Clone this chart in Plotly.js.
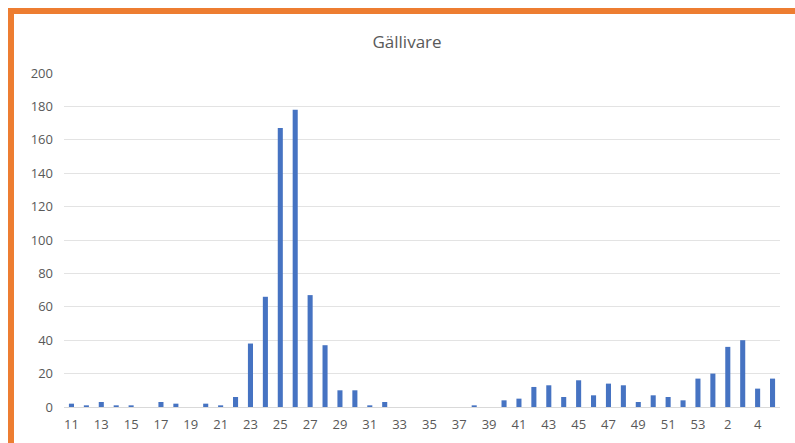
<!DOCTYPE html>
<html>
<head>
<meta charset="utf-8">
<script src="https://cdn.plot.ly/plotly-3.0.1.min.js"></script>
<style>
  html, body { margin: 0; padding: 0; background: #ffffff; }
  #wrap { position: relative; width: 795px; height: 443px; overflow: hidden; }
  #chart { position: absolute; left: 0; top: 0; width: 795px; height: 443px; }
  #frame { position: absolute; left: 8px; top: 8px; width: 800px; height: 460px;
           border-top: 6px solid #ED7D31; border-left: 6px solid #ED7D31;
           pointer-events: none; box-sizing: border-box; }
</style>
</head>
<body>
<div id="wrap">
  <div id="chart"></div>
  <div id="frame"></div>
</div>
<script>
// Week numbers (2020 week 11 to 2021 week 5)
const weeks = ["11","12","13","14","15","16","17","18","19","20","21","22","23","24","25","26","27","28","29","30",
               "31","32","33","34","35","36","37","38","39","40","41","42","43","44","45","46","47","48","49","50",
               "51","52","53","1","2","3","4","5"];
// Cases per week
const cases = [2,1,3,1,1,0,3,2,0,2,1,6,38,66,167,178,67,37,10,10,
               1,3,0,0,0,0,0,1,0,4,5,12,13,6,16,7,14,13,3,7,
               6,4,17,20,36,40,11,17];
const chartTitle = "Gällivare";

const tickVals = weeks.filter((w, i) => i % 2 === 0);

const trace = {
  type: 'bar',
  x: weeks,
  y: cases,
  marker: { color: '#4673C2' },
  hoverinfo: 'x+y'
};

const layout = {
  width: 795,
  height: 443,
  margin: { l: 64, r: 15, t: 73, b: 36, pad: 0 },
  paper_bgcolor: '#ffffff',
  plot_bgcolor: '#ffffff',
  bargap: 0.66,
  showlegend: false,
  title: {
    text: chartTitle,
    x: 0.512, xanchor: 'center',
    y: 0.905, yanchor: 'middle',
    font: { family: 'Open Sans, sans-serif', size: 17, color: '#595959' }
  },
  font: { family: 'Open Sans, sans-serif', size: 13, color: '#595959' },
  xaxis: {
    type: 'category',
    tickmode: 'array',
    tickvals: tickVals,
    ticktext: tickVals,
    tickangle: 0,
    showgrid: false,
    zeroline: false,
    showline: false,
    ticks: '',
    ticklabelstandoff: 8,
    tickfont: { size: 13, color: '#595959' }
  },
  yaxis: {
    range: [0, 200],
    dtick: 20,
    tick0: 0,
    showgrid: true,
    gridcolor: '#E3E3E3',
    gridwidth: 1,
    zeroline: true,
    zerolinecolor: '#D9D9D9',
    zerolinewidth: 1,
    showline: false,
    ticks: '',
    ticklabelstandoff: 10,
    tickfont: { size: 13, color: '#595959' }
  }
};

Plotly.newPlot('chart', [trace], layout, { displayModeBar: false, staticPlot: true });
</script>
</body>
</html>
